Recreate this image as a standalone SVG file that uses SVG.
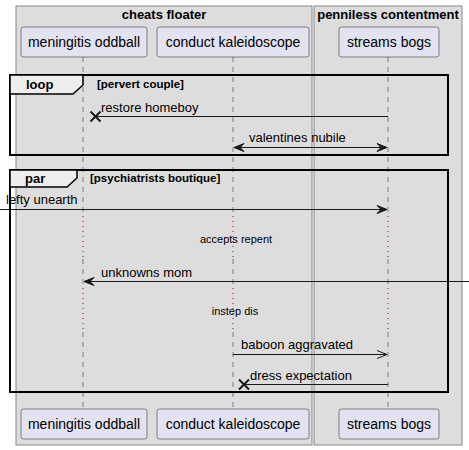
<svg xmlns="http://www.w3.org/2000/svg" width="469" height="450" viewBox="0 0 469 450">
<defs>
<style>
.grp{fill:#DDDDDD;stroke:#888888;stroke-width:1}
.gt{font-family:"Liberation Sans",Arial,sans-serif;font-size:13px;font-weight:bold;fill:#000}
.part{fill:#E2E2F0;stroke:#181818;stroke-width:0.5}
.pt{font-family:"Liberation Sans",Arial,sans-serif;font-size:14px;fill:#000;text-anchor:middle}
.life{stroke:#181818;stroke-width:0.5;stroke-dasharray:5,5;fill:none}
.delay{stroke:#A80036;stroke-width:1;stroke-dasharray:1,4;fill:none}
.frame{fill:none;stroke:#000;stroke-width:2}
.tab{fill:#EEEEEE;stroke:#000;stroke-width:1.5}
.ft{font-family:"Liberation Sans",Arial,sans-serif;font-size:13px;font-weight:bold;fill:#000}
.fc{font-family:"Liberation Sans",Arial,sans-serif;font-size:11.5px;font-weight:bold;fill:#000}
.msg{stroke:#181818;stroke-width:1;fill:none}
.mt{font-family:"Liberation Sans",Arial,sans-serif;font-size:13px;fill:#000}
.dt{font-family:"Liberation Sans",Arial,sans-serif;font-size:11px;fill:#000;text-anchor:middle}
.head{fill:#181818;stroke:#181818;stroke-width:1}
.x{stroke:#181818;stroke-width:2}
</style>
</defs>
<g id="box-cheats-floater">
<rect class="grp" x="16" y="6" width="296" height="439"/>
<text class="gt" x="164" y="19" text-anchor="middle">cheats floater</text>
</g>
<g id="box-penniless-contentment">
<rect class="grp" x="314" y="6" width="148" height="439"/>
<text class="gt" x="388" y="19" text-anchor="middle">penniless contentment</text>
</g>
<g id="lifelines">
<line class="life" x1="83" y1="57" x2="83" y2="216"/>
<line class="delay" x1="83" y1="216" x2="83" y2="259"/>
<line class="life" x1="83" y1="259" x2="83" y2="288"/>
<line class="delay" x1="83" y1="288" x2="83" y2="332"/>
<line class="life" x1="83" y1="332" x2="83" y2="409"/>
<line class="life" x1="233" y1="57" x2="233" y2="216"/>
<line class="delay" x1="233" y1="216" x2="233" y2="259"/>
<line class="life" x1="233" y1="259" x2="233" y2="288"/>
<line class="delay" x1="233" y1="288" x2="233" y2="332"/>
<line class="life" x1="233" y1="332" x2="233" y2="409"/>
<line class="life" x1="388" y1="57" x2="388" y2="216"/>
<line class="delay" x1="388" y1="216" x2="388" y2="259"/>
<line class="life" x1="388" y1="259" x2="388" y2="288"/>
<line class="delay" x1="388" y1="288" x2="388" y2="332"/>
<line class="life" x1="388" y1="332" x2="388" y2="409"/>
</g>
<g id="meningitis-oddball">
<rect class="part" x="21" y="27" width="126" height="30" rx="2.5"/>
<text class="pt" x="84" y="47">meningitis oddball</text>
<rect class="part" x="21" y="409" width="126" height="30" rx="2.5"/>
<text class="pt" x="84" y="429">meningitis oddball</text>
</g>
<g id="conduct-kaleidoscope">
<rect class="part" x="157" y="27" width="152" height="30" rx="2.5"/>
<text class="pt" x="233" y="47">conduct kaleidoscope</text>
<rect class="part" x="157" y="409" width="152" height="30" rx="2.5"/>
<text class="pt" x="233" y="429">conduct kaleidoscope</text>
</g>
<g id="streams-bogs">
<rect class="part" x="339" y="27" width="100" height="30" rx="2.5"/>
<text class="pt" x="389" y="47">streams bogs</text>
<rect class="part" x="339" y="409" width="100" height="30" rx="2.5"/>
<text class="pt" x="389" y="429">streams bogs</text>
</g>
<g id="frame-loop">
<rect class="frame" x="10" y="75" width="438" height="80"/>
<path class="tab" d="M10,75 L83,75 L83,85 L73,94 L10,94 Z"/>
<text class="ft" x="26" y="89">loop</text>
<text class="fc" x="97" y="88">[pervert couple]</text>
</g>
<g id="frame-par">
<rect class="frame" x="10" y="170" width="438" height="222"/>
<path class="tab" d="M10,170 L77,170 L77,178 L67,187 L10,187 Z"/>
<text class="ft" x="25" y="183">par</text>
<text class="fc" x="90" y="182">[psychiatrists boutique]</text>
</g>
<g id="connectors">
<line class="msg" x1="388" y1="116.5" x2="96" y2="116.5"/>
<line class="x" x1="90.5" y1="111.5" x2="100.5" y2="121.5"/>
<line class="x" x1="90.5" y1="121.5" x2="100.5" y2="111.5"/>
<text class="mt" x="101" y="112">restore homeboy</text>

<line class="msg" x1="235" y1="147.5" x2="386" y2="147.5"/>
<path class="head" d="M234,147.5 L244,143.5 L240,147.5 L244,151.5 Z"/>
<path class="head" d="M387,147.5 L377,143.5 L381,147.5 L377,151.5 Z"/>
<text class="mt" x="249" y="142">valentines nubile</text>

<line class="msg" x1="0" y1="209.5" x2="386" y2="209.5"/>
<path class="head" d="M387,209.5 L377,205.5 L381,209.5 L377,213.5 Z"/>
<text class="mt" x="6" y="204">lefty unearth</text>

<text class="dt" x="236" y="243">accepts repent</text>

<line class="msg" x1="85" y1="281.5" x2="469" y2="281.5"/>
<path class="head" d="M84,281.5 L94,277.5 L90,281.5 L94,285.5 Z"/>
<text class="mt" x="101" y="277">unknowns mom</text>

<text class="dt" x="235" y="315">instep dis</text>

<line class="msg" x1="233" y1="354.5" x2="387" y2="354.5"/>
<path class="msg" d="M377,350.5 L387,354.5 L377,358.5"/>
<text class="mt" x="241" y="349">baboon aggravated</text>

<line class="msg" x1="388" y1="384.5" x2="244" y2="384.5"/>
<line class="x" x1="239" y1="379.5" x2="249" y2="389.5"/>
<line class="x" x1="239" y1="389.5" x2="249" y2="379.5"/>
<text class="mt" x="250" y="380">dress expectation</text>
</g>
</svg>
